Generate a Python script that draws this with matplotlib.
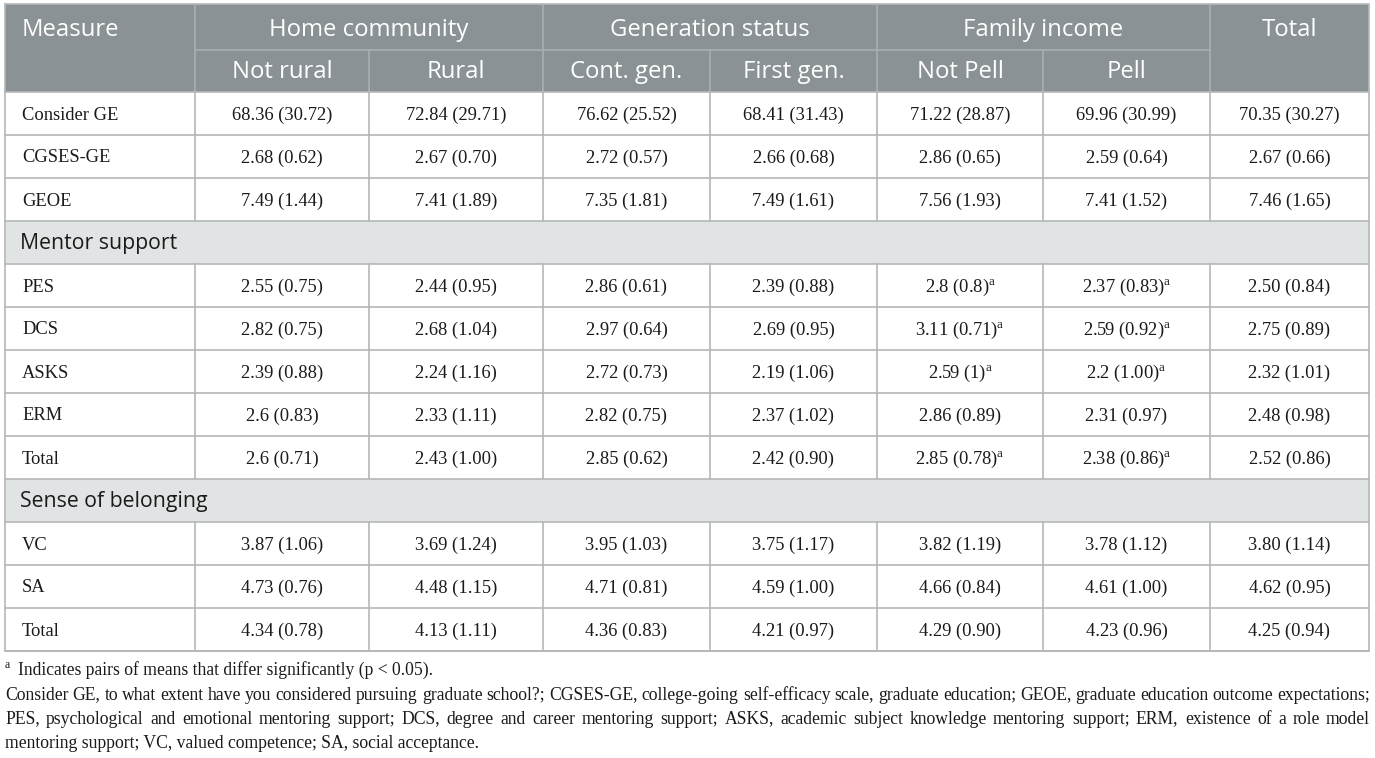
import matplotlib
matplotlib.use("Agg")
import matplotlib.pyplot as plt
from matplotlib.patches import Rectangle

plt.rcParams['mathtext.fontset'] = 'custom'
plt.rcParams['mathtext.rm'] = 'Liberation Serif'
plt.rcParams['mathtext.it'] = 'Liberation Serif:italic'

# ---------------- data ----------------
groups = ["Home community", "Generation status", "Family income"]
subgroups = ["Not rural", "Rural", "Cont. gen.", "First gen.", "Not Pell", "Pell"]

measures = ["Consider GE", "CGSES-GE", "GEOE", "Mentor support", "PES", "DCS", "ASKS",
            "ERM", "Total", "Sense of belonging", "VC", "SA", "Total"]
section_rows = ["Mentor support", "Sense of belonging"]

not_rural = ["68.36 (30.72)", "2.68 (0.62)", "7.49 (1.44)", "", "2.55 (0.75)", "2.82 (0.75)",
             "2.39 (0.88)", "2.6 (0.83)", "2.6 (0.71)", "", "3.87 (1.06)", "4.73 (0.76)", "4.34 (0.78)"]
rural = ["72.84 (29.71)", "2.67 (0.70)", "7.41 (1.89)", "", "2.44 (0.95)", "2.68 (1.04)",
         "2.24 (1.16)", "2.33 (1.11)", "2.43 (1.00)", "", "3.69 (1.24)", "4.48 (1.15)", "4.13 (1.11)"]
cont_gen = ["76.62 (25.52)", "2.72 (0.57)", "7.35 (1.81)", "", "2.86 (0.61)", "2.97 (0.64)",
            "2.72 (0.73)", "2.82 (0.75)", "2.85 (0.62)", "", "3.95 (1.03)", "4.71 (0.81)", "4.36 (0.83)"]
first_gen = ["68.41 (31.43)", "2.66 (0.68)", "7.49 (1.61)", "", "2.39 (0.88)", "2.69 (0.95)",
             "2.19 (1.06)", "2.37 (1.02)", "2.42 (0.90)", "", "3.75 (1.17)", "4.59 (1.00)", "4.21 (0.97)"]
not_pell = ["71.22 (28.87)", "2.86 (0.65)", "7.56 (1.93)", "", "2.8 (0.8)^a", "3.11 (0.71)^a",
            "2.59 (1)^a", "2.86 (0.89)", "2.85 (0.78)^a", "", "3.82 (1.19)", "4.66 (0.84)", "4.29 (0.90)"]
pell = ["69.96 (30.99)", "2.59 (0.64)", "7.41 (1.52)", "", "2.37 (0.83)^a", "2.59 (0.92)^a",
        "2.2 (1.00)^a", "2.31 (0.97)", "2.38 (0.86)^a", "", "3.78 (1.12)", "4.61 (1.00)", "4.23 (0.96)"]
total = ["70.35 (30.27)", "2.67 (0.66)", "7.46 (1.65)", "", "2.50 (0.84)", "2.75 (0.89)",
         "2.32 (1.01)", "2.48 (0.98)", "2.52 (0.86)", "", "3.80 (1.14)", "4.62 (0.95)", "4.25 (0.94)"]
columns = [not_rural, rural, cont_gen, first_gen, not_pell, pell, total]

footnote_a = "Indicates pairs of means that differ significantly (p < 0.05)."
footnote_lines = [
    "Consider GE, to what extent have you considered pursuing graduate school?; CGSES-GE, college-going self-efficacy scale, graduate education; GEOE, graduate education outcome expectations;",
    "PES, psychological and emotional mentoring support; DCS, degree and career mentoring support; ASKS, academic subject knowledge mentoring support; ERM, existence of a role model",
    "mentoring support; VC, valued competence; SA, social acceptance.",
]

# ---------------- layout ----------------
W, H = 1375, 758
fig = plt.figure(figsize=(W / 100, H / 100), dpi=100)
ax = fig.add_axes([0, 0, 1, 1])
ax.set_xlim(0, W)
ax.set_ylim(H, 0)
ax.axis('off')

xe = [5, 195, 369, 543, 710, 877, 1043, 1210, 1369]
top, mid, hb = 4, 50, 92
rh = 43
row_tops = [hb + i * rh for i in range(len(measures) + 1)]
bottom = row_tops[-1]

HEAD = "#8b9295"
SECT = "#e1e4e4"
GRID = "#b5b8b8"
HGRID = "#a9afb1"
TXT = "#1a1a1a"
serif = "Liberation Serif"
sans = "Open Sans"

# header background
ax.add_patch(Rectangle((xe[0], top), xe[-1] - xe[0], hb - top, facecolor=HEAD, edgecolor='none', zorder=1))
# section rows
for i, m in enumerate(measures):
    if m in section_rows and columns[0][i] == "":
        ax.add_patch(Rectangle((xe[0], row_tops[i]), xe[-1] - xe[0], rh, facecolor=SECT,
                               edgecolor='none', zorder=1))

# header lines
lw = 1.2
ax.plot([xe[1], xe[7]], [mid, mid], color=HGRID, lw=lw, zorder=2)
for j in [1, 3, 5, 7]:
    ax.plot([xe[j], xe[j]], [top, hb], color=HGRID, lw=lw, zorder=2)
for j in [2, 4, 6]:
    ax.plot([xe[j], xe[j]], [mid, hb], color=HGRID, lw=lw, zorder=2)

# body lines
for y in row_tops:
    ax.plot([xe[0], xe[-1]], [y, y], color=GRID, lw=lw, zorder=2)
for i, m in enumerate(measures):
    if m in section_rows and columns[0][i] == "":
        continue
    for j in range(1, 8):
        ax.plot([xe[j], xe[j]], [row_tops[i], row_tops[i + 1]], color=GRID, lw=lw, zorder=2)
# outer border
ax.plot([xe[0], xe[-1], xe[-1], xe[0], xe[0]], [top, top, bottom, bottom, top], color=GRID, lw=lw, zorder=3)

# header text
hfs = 17.2
y1 = (top + mid) / 2 + 2.5
y2 = (mid + hb) / 2 + 1.5
ax.text(22, y1, "Measure", fontfamily=sans, fontsize=hfs, color='white',
        ha='left', va='center', zorder=4)
for g, name in enumerate(groups):
    cx = (xe[1 + 2 * g] + xe[3 + 2 * g]) / 2
    ax.text(cx, y1, name, fontfamily=sans, fontsize=hfs, color='white',
            ha='center', va='center', zorder=4)
for k, name in enumerate(subgroups):
    cx = (xe[1 + k] + xe[2 + k]) / 2
    ax.text(cx, y2, name, fontfamily=sans, fontsize=hfs, color='white',
            ha='center', va='center', zorder=4)
ax.text((xe[7] + xe[8]) / 2, y1, "Total", fontfamily=sans, fontsize=hfs,
        color='white', ha='center', va='center', zorder=4)

# body text
bfs = 13.3
def fmt(s):
    if s.endswith("^a"):
        return s[:-2] + r"${}^{\mathrm{a}}$"
    return s

for i, m in enumerate(measures):
    cy = (row_tops[i] + row_tops[i + 1]) / 2 + 1.5
    if m in section_rows and columns[0][i] == "":
        ax.text(20, cy, m, fontfamily=sans, fontsize=15.3, color=TXT, ha='left', va='center', zorder=4)
        continue
    ax.text(22, cy, m, fontfamily=serif, fontsize=bfs, color=TXT, ha='left', va='center', zorder=4)
    for j, col in enumerate(columns):
        cx = (xe[1 + j] + xe[2 + j]) / 2
        ax.text(cx, cy, fmt(col[i]), fontfamily=serif, fontsize=bfs, color=TXT,
                ha='center', va='center', zorder=4)

# footnotes
ffs = 12.7
ys = [670, 695, 719, 743]
ax.text(5, ys[0] - 5, "a", fontfamily=serif, fontsize=8.5, color=TXT, ha='left', va='center')
ax.text(18, ys[0], footnote_a, fontfamily=serif, fontsize=ffs, color=TXT, ha='left', va='center')

fig.canvas.draw()
renderer = fig.canvas.get_renderer()

def justify(line, x0, x1, y):
    words = line.split(" ")
    ts = [ax.text(0, y, w, fontfamily=serif, fontsize=ffs, color=TXT, ha='left', va='center')
          for w in words]
    widths = [t.get_window_extent(renderer).width for t in ts]
    gap = (x1 - x0 - sum(widths)) / (len(words) - 1)
    x = x0
    for t, wd in zip(ts, widths):
        t.set_x(x)
        x += wd + gap

justify(footnote_lines[0], 5, 1370, ys[1])
justify(footnote_lines[1], 5, 1370, ys[2])
ax.text(5, ys[3], footnote_lines[2], fontfamily=serif, fontsize=ffs, color=TXT, ha='left', va='center')

fig.savefig("out.png", dpi=100, facecolor='white')
